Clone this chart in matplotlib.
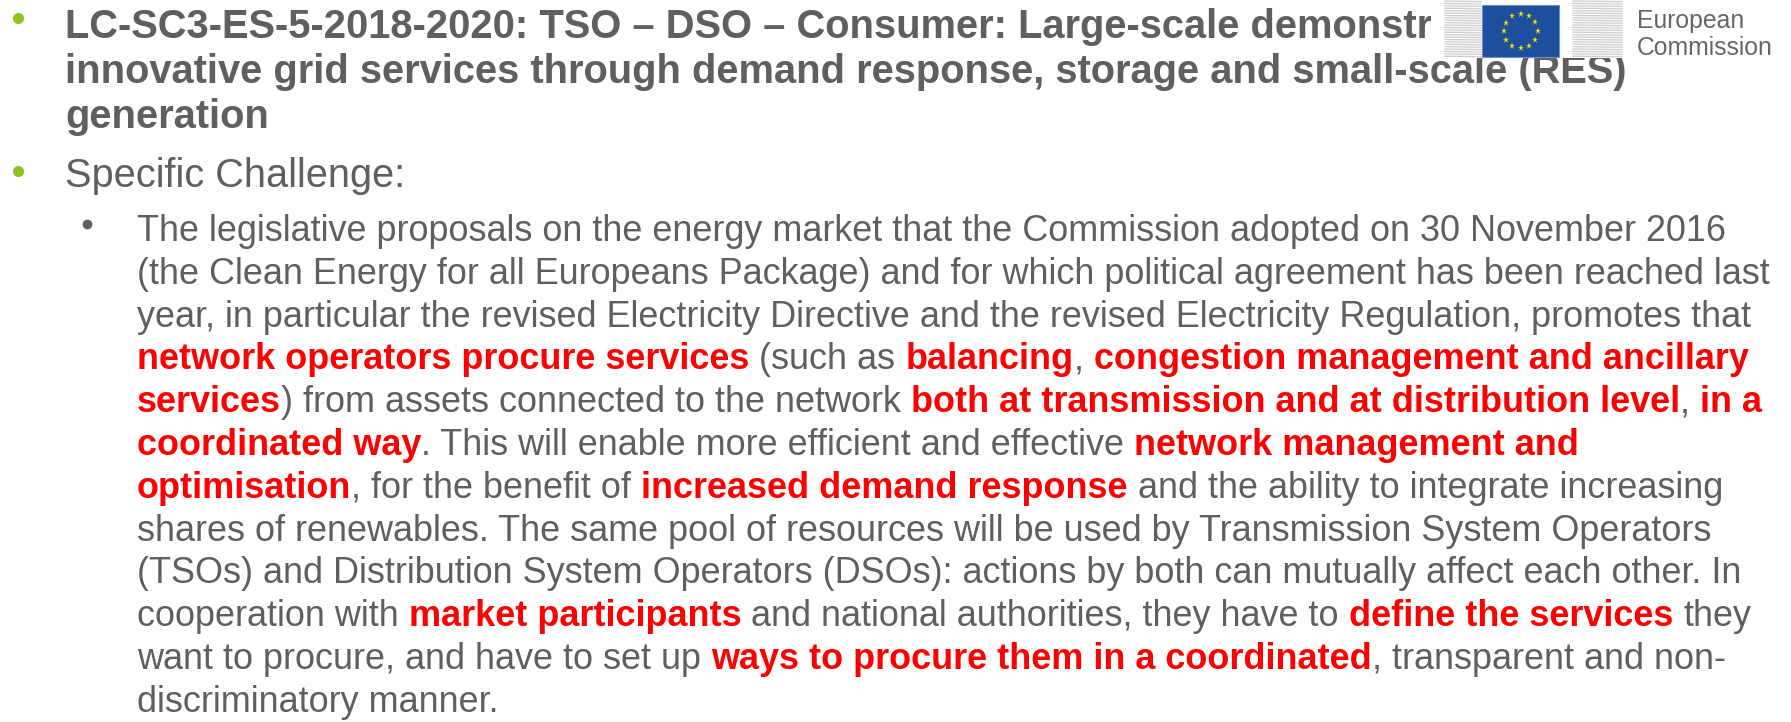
import matplotlib
matplotlib.use("Agg")
import matplotlib.pyplot as plt
from matplotlib.patches import Rectangle
import numpy as np

FONT = "Liberation Sans"
GRAY = "#5f5f5f"
RED = "#ff0000"
GREEN = "#8fc31f"

# slide text
title_lines = [
    "LC-SC3-ES-5-2018-2020: TSO – DSO – Consumer: Large-scale demonstrations of",
    "innovative grid services through demand response, storage and small-scale (RES)",
    "generation",
]
subtitle = "Specific Challenge:"

# each body line is a list of (text, highlighted) pieces
body_lines = [
    [("The legislative proposals on the energy market that the Commission adopted on 30 November 2016", False)],
    [("(the Clean Energy for all Europeans Package) and for which political agreement has been reached last", False)],
    [("year, in particular the revised Electricity Directive and the revised Electricity Regulation, promotes that", False)],
    [("network operators procure services", True), (" (such as ", False), ("balancing", True),
     (", ", False), ("congestion management and ancillary", True)],
    [("services", True), (") from assets connected to the network ", False),
     ("both at transmission and at distribution level", True), (", ", False), ("in a", True)],
    [("coordinated way", True), (". This will enable more efficient and effective ", False),
     ("network management and", True)],
    [("optimisation", True), (", for the benefit of ", False), ("increased demand response", True),
     (" and the ability to integrate increasing", False)],
    [("shares of renewables. The same pool of resources will be used by Transmission System Operators", False)],
    [("(TSOs) and Distribution System Operators (DSOs): actions by both can mutually affect each other. In", False)],
    [("cooperation with ", False), ("market participants", True),
     (" and national authorities, they have to ", False), ("define the services", True), (" they", False)],
    [("want to procure, and have to set up ", False), ("ways to procure them in a coordinated", True),
     (", transparent and non-", False)],
    [("discriminatory manner.", False)],
]

logo_words = ["European", "Commission"]

W, H = 1791, 722
fig = plt.figure(figsize=(W / 100, H / 100), dpi=100)
ax = fig.add_axes([0, 0, 1, 1])
ax.set_xlim(0, W)
ax.set_ylim(H, 0)
ax.axis("off")
fig.canvas.draw()
renderer = fig.canvas.get_renderer()


def text_width(s, size, weight="normal"):
    # measure with bars around it so edge spaces count
    t = ax.text(0, 0, "|" + s + "|", fontsize=size, fontweight=weight, family=FONT)
    w = t.get_window_extent(renderer).width
    t.remove()
    t = ax.text(0, 0, "||", fontsize=size, fontweight=weight, family=FONT)
    w -= t.get_window_extent(renderer).width
    t.remove()
    return w


def fit_size(s, target, weight="normal"):
    return 20 * target / text_width(s, 20, weight)


body_size = fit_size(body_lines[0][0][0], 1586)
title_size = 0.5 * (fit_size(title_lines[1], 1563, "bold")
                    + fit_size(title_lines[0][:65], 1363, "bold"))
sub_size = fit_size(subtitle, 340)
logo_size = fit_size(logo_words[1], 136)

# title
title_x = 65
for text, y in zip(title_lines, [38, 83, 128]):
    ax.text(title_x, y, text, fontsize=title_size, fontweight="bold", family=FONT,
            color=GRAY, va="baseline", ha="left", zorder=1)
ax.text(title_x, 187, subtitle, fontsize=sub_size, family=FONT, color=GRAY,
        va="baseline", ha="left")

# bullets
ax.plot([18, 18], [18, 171], "o", color=GREEN, markersize=8, markeredgewidth=0)
ax.plot([87], [224], "o", color=GRAY, markersize=7, markeredgewidth=0)

# body text, piece by piece
body_x = 137
for i, pieces in enumerate(body_lines):
    y = 241 + 42.8 * i
    x = body_x
    for text, hl in pieces:
        weight = "bold" if hl else "normal"
        lead = text[: len(text) - len(text.lstrip(" "))]
        core = text.strip(" ")
        x_core = x + (text_width(lead, body_size, weight) if lead else 0)
        if core:
            ax.text(x_core, y, core, fontsize=body_size, fontweight=weight, family=FONT,
                    color=RED if hl else GRAY, va="baseline", ha="left")
        x += text_width(text, body_size, weight)

# European Commission logo, on white over the title
ax.add_patch(Rectangle((1431, 0), W - 1431, 58, facecolor="white", edgecolor="none", zorder=3))
for x0, x1 in [(1445, 1481), (1573, 1622)]:
    for yy in np.arange(1, 57, 2.4):
        ax.plot([x0, x1], [yy, yy + 0.6], color="#cdcdcd", lw=0.9, zorder=4)
ax.add_patch(Rectangle((1482, 5), 77, 52, facecolor="#1d4f9f", edgecolor="#6f8fc7",
                       lw=0.8, zorder=5))
ang = np.linspace(0, 2 * np.pi, 12, endpoint=False)
ax.plot(1520.5 + 17 * np.cos(ang), 31 + 17 * np.sin(ang), "*", color="#ffdd00",
        markersize=5, markeredgewidth=0, zorder=6)
ax.text(1637, 28, logo_words[0], fontsize=logo_size, family=FONT, color="#666666",
        va="baseline", ha="left", zorder=6)
ax.text(1637, 55, logo_words[1], fontsize=logo_size, family=FONT, color="#666666",
        va="baseline", ha="left", zorder=6)

fig.savefig("out.png", dpi=100)
